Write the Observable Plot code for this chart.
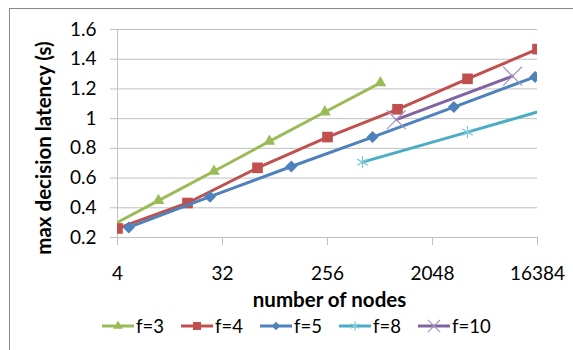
<!DOCTYPE html>
<html>
<head>
<meta charset="utf-8">
<script src="https://cdn.jsdelivr.net/npm/d3@7"></script>
<script src="https://cdn.jsdelivr.net/npm/@observablehq/plot@0.6"></script>
<style>
html,body{margin:0;padding:0;background:#fff;overflow:hidden;}
#wrap{position:relative;width:573px;height:350px;font-family:Lato,sans-serif;}
#frame{position:absolute;left:9px;top:8px;width:700px;height:500px;border:1px solid #8a8a8a;box-sizing:border-box;pointer-events:none;}
#chart{position:absolute;left:0;top:0;}
#legend{position:absolute;left:102px;top:313px;height:26px;display:flex;align-items:center;font-size:18.5px;color:#000;}
.item{width:79px;display:flex;align-items:center;}
.item svg{display:block;margin-right:1px;}
</style>
</head>
<body>
<div id="wrap">
<div id="frame"></div>
<div id="chart"></div>
<div id="legend"></div>
</div>
<script>
// Data
const seriesNames = ["f=3", "f=4", "f=5", "f=8", "f=10"];
const nodesF3 = [3, 9, 27, 81, 243, 729];
const latF3 = [0.25, 0.448, 0.646, 0.847, 1.045, 1.241];
const nodesF4 = [4, 16, 64, 256, 1024, 4096, 16384];
const latF4 = [0.261, 0.432, 0.669, 0.876, 1.063, 1.268, 1.468];
const nodesF5 = [5, 25, 125, 625, 3125, 15625];
const latF5 = [0.268, 0.475, 0.678, 0.876, 1.078, 1.281];
const nodesF8 = [512, 4096, 32768];
const latF8 = [0.707, 0.909, 1.113];
const nodesF10 = [1000, 10000];
const latF10 = [0.993, 1.286];
const xTicks = [4, 32, 256, 2048, 16384];
const yTicks = [0.2, 0.4, 0.6, 0.8, 1, 1.2, 1.4, 1.6];
const xTitle = "number of nodes";
const yTitle = "max decision latency (s)";

const colors = ["#9BBB59", "#C0504D", "#4F81BD", "#4BACC6", "#8064A2"];
const markerColors = ["#9BBB59", "#C0504D", "#4F81BD", "#7FC6DA", "#A691C2"];
const symbols = ["triangle", "square", "diamond2", "asterisk", "times"];
const markerR = [4.4, 6.0, 5.4, 5.8, 8.6];
const filled = [true, true, true, false, false];

const allNodes = [nodesF3, nodesF4, nodesF5, nodesF8, nodesF10];
const allLat = [latF3, latF4, latF5, latF8, latF10];
const series = seriesNames.map((name, i) =>
  allNodes[i].map((n, j) => ({name, n, v: allLat[i][j]})));

const seriesMarks = [];
series.forEach((data, i) => {
  seriesMarks.push(Plot.line(data, {x: "n", y: "v", stroke: colors[i], strokeWidth: 3, clip: true}));
  seriesMarks.push(Plot.dot(data, filled[i]
    ? {x: "n", y: "v", symbol: symbols[i], r: markerR[i], fill: markerColors[i], stroke: "none", clip: true}
    : {x: "n", y: "v", symbol: symbols[i], r: markerR[i], stroke: markerColors[i], strokeWidth: 1.2, fill: "none", clip: true}));
});

const chart = Plot.plot({
  width: 573,
  height: 310,
  marginLeft: 117,
  marginRight: 36,
  marginTop: 29,
  marginBottom: 73,
  style: {fontFamily: "Lato, sans-serif", fontSize: "18.5px", color: "#000", background: "transparent", overflow: "visible"},
  x: {type: "log", base: 2, domain: [4, 16384]},
  y: {domain: [0.2, 1.6]},
  marks: [
    Plot.ruleY(yTicks, {stroke: "#c0c0c0", strokeWidth: 1}),
    Plot.ruleX([4], {stroke: "#c0c0c0", strokeWidth: 1}),
    Plot.axisY({ticks: yTicks, tickSize: 7, stroke: "#c0c0c0", strokeOpacity: 1, fill: "none", label: null}),
    Plot.text(yTicks, {y: d => d, text: d => String(d), frameAnchor: "left", textAnchor: "end", lineAnchor: "middle", dx: -21, fontSize: 19, fill: "#000"}),
    Plot.axisX({ticks: xTicks, tickSize: 8, stroke: "#c0c0c0", strokeOpacity: 1, fill: "none", label: null}),
    Plot.text(xTicks, {x: d => d, text: d => String(d), frameAnchor: "bottom", textAnchor: "middle", lineAnchor: "middle", dy: 36, fontSize: 19, fill: "#000"}),
    Plot.text([yTitle], {text: d => d, frameAnchor: "left", textAnchor: "middle", lineAnchor: "middle", rotate: -90, dx: -73.5, dy: 14.5, fontWeight: "bold", fontSize: 20.5, fill: "#000"}),
    Plot.text([xTitle], {text: d => d, frameAnchor: "bottom", textAnchor: "middle", lineAnchor: "middle", dx: 2, dy: 63, fontWeight: "bold", fontSize: 20.5, fill: "#000"}),
    ...seriesMarks
  ]
});
document.getElementById("chart").appendChild(chart);

// Legend
const legend = document.getElementById("legend");
const d3sym = {triangle: d3.symbolTriangle, square: d3.symbolSquare, diamond2: d3.symbolDiamond2, asterisk: d3.symbolAsterisk, times: d3.symbolTimes};
const legendSize = [40, 64, 45, 60, 100];
seriesNames.forEach((name, i) => {
  const item = document.createElement("div");
  item.className = "item";
  const svg = d3.create("svg").attr("width", 33).attr("height", 20);
  svg.append("line").attr("x1", 0).attr("x2", 32).attr("y1", 10).attr("y2", 10)
    .attr("stroke", colors[i]).attr("stroke-width", 3);
  svg.append("path").attr("transform", "translate(16,10)")
    .attr("d", d3.symbol(d3sym[symbols[i]], legendSize[i])())
    .attr("fill", filled[i] ? markerColors[i] : "none")
    .attr("stroke", filled[i] ? "none" : markerColors[i])
    .attr("stroke-width", 1.2);
  item.appendChild(svg.node());
  const span = document.createElement("span");
  span.textContent = name;
  item.appendChild(span);
  legend.appendChild(item);
});
</script>
</body>
</html>
